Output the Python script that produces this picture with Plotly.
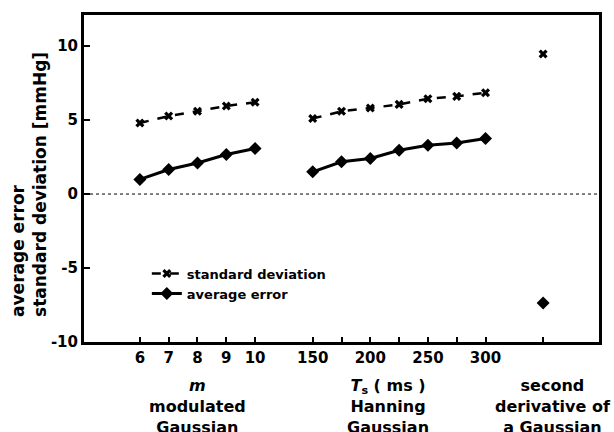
import plotly.graph_objects as go

# Window parameter groups and the measured pressure errors (mmHg)
m_values = [6, 7, 8, 9, 10]
m_std = [4.8, 5.27, 5.6, 5.95, 6.2]
m_avg = [0.99, 1.66, 2.1, 2.67, 3.08]

ts_values = [150, 175, 200, 225, 250, 275, 300]
ts_std = [5.1, 5.59, 5.81, 6.06, 6.44, 6.6, 6.85]
ts_avg = [1.5, 2.18, 2.4, 2.96, 3.3, 3.45, 3.75]

d2_std = [9.47]
d2_avg = [-7.36]

ts_labelled = [150, 200, 250, 300]
y_ticks = [-10, -5, 0, 5, 10]
y_ticktext = ["-10", "-5", "0", "5", "10"]

FONT = "DejaVu Sans"

# ordinal x positions: m group, gap, Ts group, gap, single 2nd-derivative point
m_pos = list(range(len(m_values)))
ts_start = len(m_values) + 1
ts_step = ts_values[1] - ts_values[0]
ts_pos = [ts_start + (v - ts_values[0]) / ts_step for v in ts_values]
d2_pos = [ts_pos[-1] + 2]

label_vals = m_pos + [p for p, v in zip(ts_pos, ts_values) if v in ts_labelled]
label_text = [str(v) for v in m_values] + [str(v) for v in ts_values if v in ts_labelled]
plain_ticks = [p for p, v in zip(ts_pos, ts_values) if v not in ts_labelled] + d2_pos

fig = go.Figure()

std_style = dict(mode="lines+markers",
                 line=dict(color="black", width=2.5, dash="dash"),
                 marker=dict(symbol="x", size=8, color="black"),
                 legendgroup="std", name="standard deviation")
avg_style = dict(mode="lines+markers",
                 line=dict(color="black", width=3),
                 marker=dict(symbol="diamond", size=10, color="black"),
                 legendgroup="avg", name="average error")

fig.add_trace(go.Scatter(x=m_pos, y=m_std, showlegend=True, **std_style))
fig.add_trace(go.Scatter(x=ts_pos, y=ts_std, showlegend=False, **std_style))
fig.add_trace(go.Scatter(x=d2_pos, y=d2_std, showlegend=False, **std_style))
fig.add_trace(go.Scatter(x=m_pos, y=m_avg, showlegend=True, **avg_style))
fig.add_trace(go.Scatter(x=ts_pos, y=ts_avg, showlegend=False, **avg_style))
fig.add_trace(go.Scatter(x=d2_pos, y=d2_avg, showlegend=False, **avg_style))

# dotted zero reference
fig.add_hline(y=0, line=dict(color="black", width=1, dash="dot"))

# group captions under the x axis
captions = [
    (2, "<i>m</i><br>modulated<br>Gaussian"),
    (8.6, "<i>T</i><sub>s</sub> ( ms )<br>Hanning<br>Gaussian"),
    (14.35, "second<br>derivative of<br>a Gaussian"),
]
for xc, txt in captions:
    fig.add_annotation(x=xc, xref="x", y=0, yref="paper", yanchor="top",
                       yshift=-32, text=txt, showarrow=False, align="center",
                       font=dict(family=FONT, size=16, color="black", weight="bold"))

# two-line rotated y-axis title
fig.add_annotation(x=-0.107, xref="paper", y=0.483, yref="paper",
                   xanchor="center", yanchor="middle", textangle=-90,
                   align="left", showarrow=False,
                   text="average error<br>standard deviation [mmHg]",
                   font=dict(family=FONT, size=17, color="black", weight="bold"))

fig.update_layout(
    width=614, height=432,
    margin=dict(l=84, r=14, t=13, b=90),
    paper_bgcolor="white", plot_bgcolor="white",
    font=dict(family=FONT, color="black", weight="bold"),
    showlegend=True,
    legend=dict(x=0.122, y=0.255, xanchor="left", yanchor="top",
                bgcolor="rgba(0,0,0,0)", font=dict(size=13, family=FONT, weight="bold"),
                tracegroupgap=0),
    xaxis=dict(range=[-1.94, 15.94], tickmode="array", tickvals=label_vals,
               ticktext=label_text, ticks="inside", ticklen=5, tickwidth=2,
               tickcolor="black", showgrid=False, zeroline=False,
               showline=True, linecolor="black", linewidth=3, mirror=True,
               tickfont=dict(size=15, family=FONT, weight="bold"),
               minor=dict(tickmode="array", tickvals=plain_ticks, ticks="inside",
                          ticklen=5, tickwidth=2, tickcolor="black", showgrid=False)),
    yaxis=dict(range=[-10, 12.1], tickmode="array", tickvals=y_ticks,
               ticktext=y_ticktext,
               ticks="inside", ticklen=6, tickwidth=2, tickcolor="black",
               showgrid=False, zeroline=False, showline=True,
               linecolor="black", linewidth=3, mirror=True,
               tickfont=dict(size=15, family=FONT, weight="bold")),
)

fig.write_html("out.html")
